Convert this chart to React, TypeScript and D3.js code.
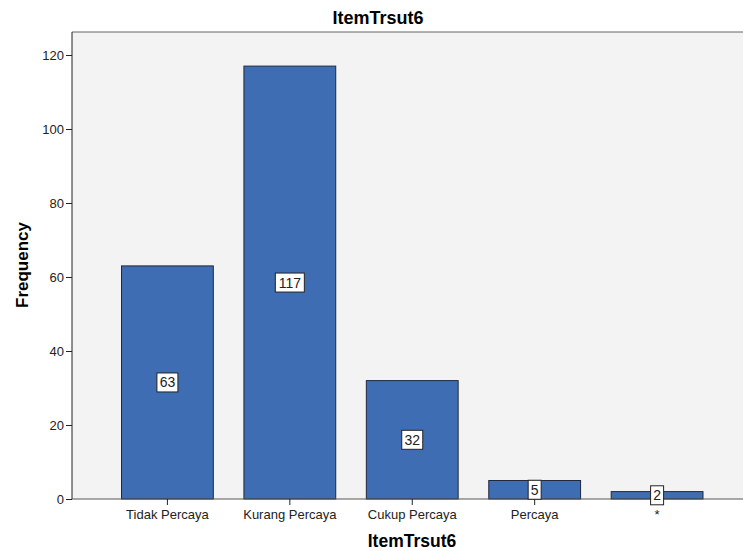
import React, { useEffect, useRef } from 'react';
import * as d3 from 'd3';

const categories = ['Tidak Percaya', 'Kurang Percaya', 'Cukup Percaya', 'Percaya', '*'];
const frequencies = [63, 117, 32, 5, 2];
const yTicks = [0, 20, 40, 60, 80, 100, 120];
const chartTitle = 'ItemTrsut6';
const xTitle = 'ItemTrsut6';
const yTitle = 'Frequency';

const W = 743;
const H = 551;

export default function App() {
  const ref = useRef<SVGSVGElement>(null);

  useEffect(() => {
    if (!ref.current) return;
    const svg = d3.select(ref.current);
    svg.selectAll('*').remove();

    const left = 72;
    const right = 743;
    const top = 32;
    const bottom = 499;
    const font = 'Arial, "Liberation Sans", sans-serif';

    const y = d3.scaleLinear().domain([0, 120]).range([bottom, 55]);
    const x = d3
      .scaleBand<string>()
      .domain(categories)
      .range([121.5, 703])
      .paddingInner(0.25)
      .paddingOuter(0);

    // plot background
    svg
      .append('rect')
      .attr('x', left)
      .attr('y', top)
      .attr('width', right - left)
      .attr('height', bottom - top)
      .attr('fill', '#f3f3f3');

    // top border
    svg
      .append('line')
      .attr('x1', left)
      .attr('x2', right)
      .attr('y1', top)
      .attr('y2', top)
      .attr('stroke', '#666')
      .attr('stroke-width', 1.2);

    // bars
    svg
      .append('g')
      .selectAll('rect')
      .data(frequencies)
      .enter()
      .append('rect')
      .attr('x', (d, i) => x(categories[i])!)
      .attr('y', (d) => y(d))
      .attr('width', x.bandwidth())
      .attr('height', (d) => bottom - y(d))
      .attr('fill', '#3f6db3')
      .attr('stroke', '#1e2a3c')
      .attr('stroke-width', 1);

    // y axis
    const yAxis = svg
      .append('g')
      .attr('transform', `translate(${left},0)`)
      .call(d3.axisLeft(y).tickValues(yTicks).tickSize(6).tickSizeOuter(0).tickPadding(2));
    yAxis.select('.domain').attr('stroke', '#222').attr('d', `M0,${top}V${bottom}`);
    yAxis.selectAll('.tick line').attr('stroke', '#222');
    yAxis
      .selectAll('text')
      .attr('font-size', '13px')
      .attr('font-family', font)
      .attr('fill', '#222');

    // x axis
    const xAxis = svg
      .append('g')
      .attr('transform', `translate(0,${bottom})`)
      .call(d3.axisBottom(x).tickSize(6).tickSizeOuter(0).tickPadding(5));
    xAxis.select('.domain').attr('stroke', '#555').attr('d', `M${left},0H${right}`);
    xAxis.selectAll('.tick line').attr('stroke', '#222');
    xAxis
      .selectAll('text')
      .attr('font-size', '13px')
      .attr('font-family', font)
      .attr('fill', '#222');

    // value labels
    const labels = svg
      .append('g')
      .selectAll('g')
      .data(frequencies)
      .enter()
      .append('g')
      .attr(
        'transform',
        (d, i) => `translate(${x(categories[i])! + x.bandwidth() / 2},${(y(d) + y(0)) / 2})`
      );
    labels
      .append('rect')
      .attr('x', (d) => -(String(d).length * 8 + 5) / 2)
      .attr('y', -9.5)
      .attr('width', (d) => String(d).length * 8 + 5)
      .attr('height', 19)
      .attr('fill', '#fff')
      .attr('stroke', '#222')
      .attr('stroke-width', 1);
    labels
      .append('text')
      .attr('text-anchor', 'middle')
      .attr('dy', '0.36em')
      .attr('font-size', '14px')
      .attr('font-family', font)
      .attr('fill', '#222')
      .text((d) => d);

    // titles
    svg
      .append('text')
      .attr('x', 378)
      .attr('y', 24)
      .attr('text-anchor', 'middle')
      .attr('font-size', '18px')
      .attr('font-weight', 'bold')
      .attr('font-family', font)
      .text(chartTitle);

    svg
      .append('text')
      .attr('x', 412)
      .attr('y', 547)
      .attr('text-anchor', 'middle')
      .attr('font-size', '17.5px')
      .attr('font-weight', 'bold')
      .attr('font-family', font)
      .text(xTitle);

    svg
      .append('text')
      .attr('transform', `translate(28,265)rotate(-90)`)
      .attr('text-anchor', 'middle')
      .attr('font-size', '17px')
      .attr('font-weight', 'bold')
      .attr('font-family', font)
      .text(yTitle);
  }, []);

  return (
    <svg
      ref={ref}
      width={W}
      height={H}
      style={{ position: 'absolute', left: 0, top: 0, background: '#fff' }}
    />
  );
}
